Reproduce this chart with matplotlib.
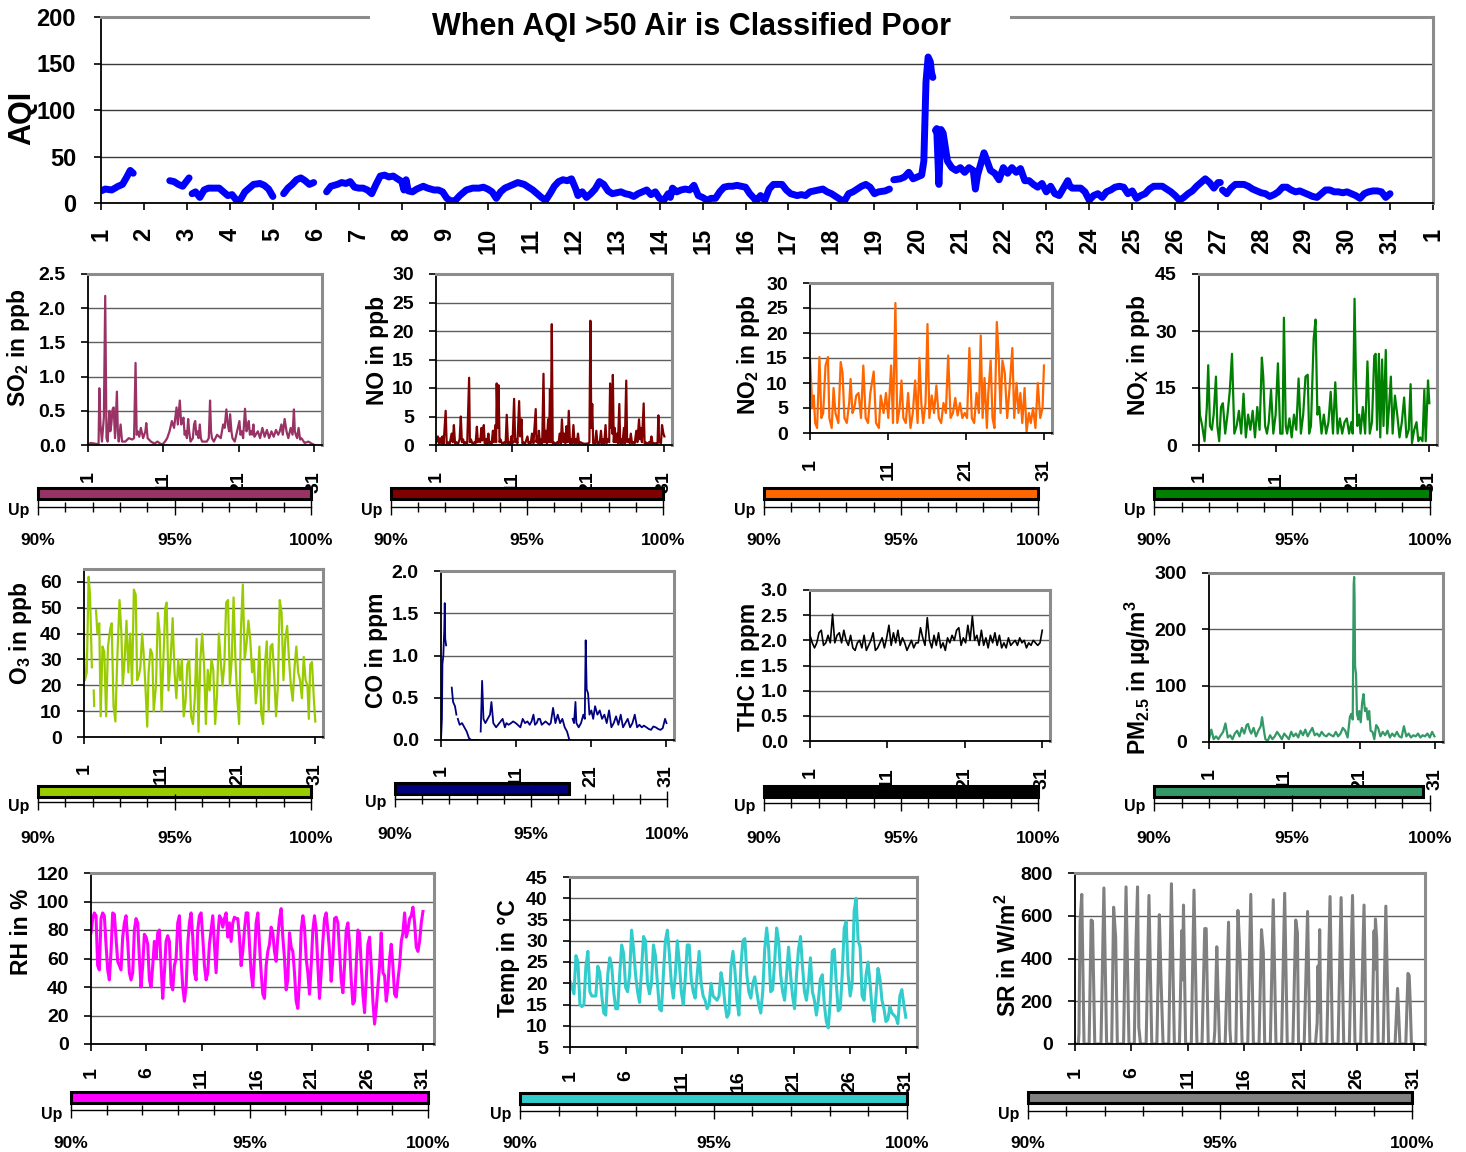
import numpy as np
import matplotlib
matplotlib.use("Agg")
import matplotlib.pyplot as plt
from matplotlib.patches import Rectangle
from matplotlib.ticker import MultipleLocator

plt.rcParams['font.family'] = ['Liberation Sans', 'DejaVu Sans']
plt.rcParams['font.weight'] = 'bold'
plt.rcParams['mathtext.fontset'] = 'custom'
plt.rcParams['mathtext.rm'] = 'Liberation Sans:bold'
plt.rcParams['mathtext.it'] = 'Liberation Sans:bold'
plt.rcParams['mathtext.bf'] = 'Liberation Sans:bold'
plt.rcParams['mathtext.default'] = 'rm'

nan = np.nan

# ---- data (day of month, value) ----
aqi_pts = [
    (1.0, 13), (1.1, 15), (1.25, 14), (1.4, 18), (1.5, 20), (1.6, 28), (1.68, 35), (1.75, 32), (1.8, nan),
    (2.6, 24), (2.7, 23), (2.8, 20), (2.9, 18), (3.0, 24), (3.05, 27), (3.08, nan),
    (3.12, 10), (3.2, 12), (3.3, 6), (3.4, 14), (3.5, 16), (3.6, 16), (3.75, 16), (3.85, 12), (3.95, 8),
    (4.05, 9), (4.15, 3), (4.25, 4), (4.35, 12), (4.45, 16), (4.55, 20), (4.7, 21), (4.8, 19), (4.9, 15),
    (5.0, 7), (5.1, nan),
    (5.25, 10), (5.35, 16), (5.45, 20), (5.55, 25), (5.65, 27), (5.75, 24), (5.85, 20), (5.95, 22), (6.1, nan),
    (6.25, 12), (6.35, 18), (6.5, 20), (6.6, 22), (6.7, 21), (6.8, 23), (6.9, 17), (7.0, 16), (7.1, 16),
    (7.2, 14), (7.3, 10), (7.4, 20), (7.5, 29), (7.6, 30), (7.7, 28), (7.8, 29), (7.9, 26), (8.0, 23),
    (8.05, 14), (8.1, 25), (8.15, 13), (8.25, 12), (8.35, 15), (8.5, 18), (8.6, 16), (8.75, 14), (8.85, 14),
    (8.95, 12), (9.05, 5), (9.15, 2), (9.25, 3), (9.35, 8), (9.5, 14), (9.65, 16), (9.8, 16), (9.9, 17),
    (10.0, 15), (10.1, 12), (10.2, 5), (10.3, 12), (10.4, 16), (10.5, 18), (10.6, 20), (10.7, 22),
    (10.85, 20), (10.95, 17), (11.05, 14), (11.15, 10), (11.25, 6), (11.35, 3), (11.45, 10), (11.55, 18),
    (11.65, 23), (11.75, 25), (11.85, 24), (11.95, 26), (12.05, 15), (12.1, 8), (12.2, 12), (12.3, 6),
    (12.4, 10), (12.5, 15), (12.6, 23), (12.7, 20), (12.8, 13), (12.9, 10), (13.0, 11), (13.1, 12),
    (13.2, 10), (13.3, 9), (13.4, 7), (13.5, 10), (13.6, 12), (13.7, 14), (13.8, 9), (13.9, 12), (14.0, 5),
    (14.1, 3), (14.2, 10), (14.25, 6), (14.3, 16), (14.4, 12), (14.5, 14), (14.6, 15), (14.7, 14),
    (14.8, 19), (14.9, 8), (15.0, 6), (15.1, 3), (15.2, 5), (15.3, 5), (15.4, 12), (15.5, 17), (15.6, 18),
    (15.7, 18), (15.8, 19), (15.9, 18), (16.0, 17), (16.1, 10), (16.2, 5), (16.25, 2), (16.35, 8),
    (16.45, 3), (16.55, 15), (16.65, 20), (16.75, 20), (16.85, 20), (16.95, 14), (17.05, 10), (17.2, 8),
    (17.3, 9), (17.4, 8), (17.5, 12), (17.6, 13), (17.7, 14), (17.8, 15), (17.9, 12), (18.0, 10),
    (18.1, 7), (18.2, 4), (18.3, 2), (18.4, 10), (18.5, 12), (18.6, 15), (18.7, 18), (18.8, 20),
    (18.9, 17), (19.0, 10), (19.1, 12), (19.25, 13), (19.35, 15), (19.4, nan),
    (19.45, 25), (19.6, 26), (19.7, 28), (19.8, 33), (19.9, 26), (20.0, 28), (20.1, 30), (20.15, 45),
    (20.2, 130), (20.25, 157), (20.3, 152), (20.33, 140), (20.36, 135), (20.39, nan),
    (20.42, 78), (20.45, 80), (20.5, 20), (20.55, 79), (20.6, 75), (20.65, 60), (20.7, 45), (20.8, 38),
    (20.9, 35), (21.0, 38), (21.1, 33), (21.2, 38), (21.3, 35), (21.35, 15), (21.4, 30), (21.5, 46),
    (21.55, 54), (21.6, 48), (21.7, 35), (21.8, 32), (21.9, 25), (22.0, 38), (22.1, 32), (22.2, 38),
    (22.3, 33), (22.4, 37), (22.5, 24), (22.6, 24), (22.7, 20), (22.8, 17), (22.9, 21), (23.0, 12),
    (23.1, 18), (23.2, 10), (23.3, 8), (23.4, 16), (23.5, 24), (23.55, 18), (23.6, 16), (23.7, 16),
    (23.8, 16), (23.9, 12), (24.0, 3), (24.1, 8), (24.2, 10), (24.3, 6), (24.4, 12), (24.5, 14),
    (24.6, 17), (24.7, 18), (24.8, 17), (24.9, 10), (25.0, 13), (25.1, 5), (25.2, 8), (25.3, 10),
    (25.4, 15), (25.5, 18), (25.6, 18), (25.7, 18), (25.8, 15), (25.9, 12), (26.0, 8), (26.1, 3),
    (26.2, 6), (26.3, 10), (26.4, 13), (26.5, 18), (26.6, 22), (26.7, 26), (26.8, 22), (26.9, 16),
    (27.0, 22), (27.05, 22), (27.08, nan),
    (27.1, 14), (27.2, 10), (27.3, 16), (27.4, 20), (27.5, 20), (27.6, 20), (27.7, 18), (27.8, 15),
    (27.9, 13), (28.0, 11), (28.1, 10), (28.2, 7), (28.3, 9), (28.4, 12), (28.5, 17), (28.6, 17),
    (28.7, 14), (28.8, 12), (28.9, 13), (29.0, 11), (29.1, 9), (29.2, 7), (29.3, 6), (29.4, 10),
    (29.5, 14), (29.6, 14), (29.7, 12), (29.8, 12), (29.9, 11), (30.0, 12), (30.1, 10), (30.2, 8),
    (30.3, 5), (30.4, 10), (30.5, 12), (30.6, 13), (30.7, 13), (30.8, 12), (30.9, 6), (31.0, 10),
]

so2_pts = [
    (1.0, 0.01), (1.4, 0.03), (1.9, 0.02), (2.4, 0.01), (2.5, 0.83), (2.65, 0.3), (2.85, 0.05), (3.1, 0.4),
    (3.28, 2.18), (3.45, 0.1), (3.6, 0.05), (3.84, 0.5), (3.95, 0.2), (4.09, 0.3), (4.25, 0.52), (4.4, 0.55),
    (4.58, 0.1), (4.83, 0.78), (4.95, 0.2), (5.07, 0.05), (5.32, 0.3), (5.51, 0.05), (5.94, 0.05), (6.4, 0.1),
    (6.86, 0.08), (7.1, 0.1), (7.3, 1.2), (7.45, 0.15), (7.6, 0.2), (7.79, 0.12), (8.0, 0.25), (8.3, 0.1),
    (8.6, 0.2), (8.72, 0.32), (8.9, 0.1), (9.33, 0.05), (9.8, 0.02), (10.2, 0.05), (10.57, 0.02),
    (10.88, 0.01), (11.2, 0.05), (11.49, 0.1), (11.8, 0.2), (12.11, 0.35), (12.4, 0.25), (12.73, 0.55),
    (12.9, 0.3), (13.16, 0.65), (13.35, 0.3), (13.5, 0.35), (13.65, 0.4), (13.8, 0.15), (13.96, 0.2),
    (14.1, 0.1), (14.27, 0.38), (14.4, 0.2), (14.58, 0.05), (14.89, 0.1), (15.05, 0.3), (15.2, 0.35),
    (15.35, 0.15), (15.51, 0.2), (15.65, 0.1), (15.81, 0.3), (15.95, 0.1), (16.12, 0.05), (16.74, 0.05),
    (17.0, 0.1), (17.17, 0.65), (17.3, 0.2), (17.42, 0.1), (17.67, 0.05), (18.1, 0.15), (18.59, 0.1),
    (18.9, 0.3), (19.1, 0.25), (19.33, 0.52), (19.52, 0.3), (19.7, 0.2), (19.83, 0.45), (20.0, 0.2),
    (20.14, 0.1), (20.44, 0.05), (20.75, 0.2), (21.06, 0.35), (21.2, 0.15), (21.37, 0.2), (21.55, 0.1),
    (21.8, 0.53), (21.99, 0.2), (22.15, 0.25), (22.3, 0.35), (22.45, 0.15), (22.6, 0.2), (22.75, 0.15),
    (22.91, 0.3), (23.05, 0.12), (23.22, 0.15), (23.5, 0.2), (23.8, 0.1), (24.1, 0.25), (24.4, 0.12),
    (24.7, 0.22), (25.0, 0.1), (25.3, 0.2), (25.6, 0.12), (25.9, 0.22), (26.2, 0.15), (26.4, 0.2),
    (26.62, 0.3), (26.8, 0.15), (27.05, 0.38), (27.3, 0.2), (27.54, 0.1), (27.85, 0.25), (28.1, 0.15),
    (28.28, 0.52), (28.4, 0.2), (28.53, 0.15), (28.7, 0.1), (28.9, 0.25), (29.1, 0.08), (29.27, 0.1),
    (29.7, 0.03), (30.2, 0.05), (30.63, 0.02), (31.0, 0.0),
]

no_pts = [
    (1.0, 0.3), (1.24, 1.5), (1.4, 0.3), (1.54, 1.2), (1.7, 0.3), (1.84, 1.5), (2.0, 0.2), (2.27, 6.0),
    (2.4, 0.3), (2.57, 0.5), (2.8, 0.2), (3.05, 2.0), (3.2, 0.5), (3.35, 3.5), (3.5, 0.3), (3.66, 0.5),
    (3.9, 0.2), (4.1, 1.0), (4.26, 5.0), (4.4, 0.5), (4.56, 1.0), (4.7, 0.2), (4.86, 0.5), (5.1, 0.3),
    (5.35, 11.8), (5.45, 0.5), (5.59, 1.0), (5.8, 0.2), (6.07, 0.5), (6.2, 0.3), (6.37, 3.2), (6.5, 0.5),
    (6.67, 1.0), (6.8, 0.5), (6.97, 3.0), (7.1, 0.8), (7.28, 3.5), (7.4, 0.3), (7.58, 1.0), (7.7, 0.2),
    (7.88, 2.0), (8.0, 0.3), (8.18, 0.5), (8.3, 0.2), (8.48, 2.5), (8.6, 0.5), (8.79, 3.5), (8.9, 0.5),
    (8.97, 10.8), (9.1, 3.0), (9.21, 10.5), (9.35, 0.5), (9.45, 1.0), (9.7, 0.2), (9.99, 0.5), (10.15, 0.3),
    (10.29, 5.3), (10.45, 0.3), (10.6, 0.5), (10.75, 0.2), (10.9, 1.5), (11.05, 0.3), (11.26, 8.1),
    (11.4, 0.5), (11.5, 1.0), (11.7, 0.3), (11.92, 7.7), (12.05, 1.5), (12.23, 4.5), (12.35, 0.3),
    (12.47, 0.5), (12.7, 0.2), (13.01, 1.5), (13.15, 0.3), (13.31, 0.5), (13.45, 0.3), (13.61, 2.0),
    (13.8, 0.3), (14.1, 6.3), (14.2, 0.5), (14.34, 1.5), (14.45, 0.3), (14.52, 2.5), (14.65, 0.3),
    (14.82, 1.0), (14.95, 0.3), (15.12, 12.5), (15.25, 0.5), (15.42, 2.5), (15.55, 0.3), (15.73, 4.5),
    (15.85, 0.5), (15.97, 9.8), (16.08, 0.5), (16.21, 21.2), (16.33, 0.3), (16.45, 0.5), (16.7, 0.2),
    (16.93, 0.5), (17.1, 0.3), (17.24, 2.0), (17.4, 0.3), (17.54, 4.5), (17.7, 0.5), (17.84, 2.0),
    (18.0, 0.3), (18.14, 3.3), (18.3, 0.5), (18.44, 6.0), (18.6, 0.3), (18.74, 1.0), (18.9, 0.3),
    (19.05, 3.5), (19.2, 0.3), (19.35, 1.0), (19.5, 0.3), (19.65, 2.0), (19.8, 0.2), (19.95, 0.5),
    (20.25, 0.3), (20.55, 0.2), (21.04, 0.3), (21.15, 0.5), (21.28, 21.8), (21.4, 3.0), (21.52, 7.2),
    (21.65, 0.3), (21.76, 0.5), (21.9, 0.3), (22.06, 2.5), (22.2, 0.3), (22.36, 0.5), (22.5, 0.3),
    (22.67, 2.5), (22.8, 0.3), (22.97, 1.0), (23.1, 0.3), (23.27, 3.5), (23.4, 0.3), (23.57, 1.0),
    (23.75, 0.5), (23.87, 10.8), (23.95, 3.0), (24.05, 10.0), (24.15, 2.0), (24.23, 12.3), (24.35, 0.5),
    (24.48, 3.0), (24.6, 0.5), (24.78, 2.0), (24.9, 0.3), (25.08, 7.2), (25.2, 0.3), (25.38, 1.0),
    (25.5, 0.3), (25.68, 3.0), (25.8, 0.3), (25.99, 11.3), (26.1, 0.5), (26.29, 1.0), (26.45, 0.3),
    (26.59, 2.0), (26.75, 0.3), (26.89, 0.5), (27.1, 0.3), (27.31, 2.5), (27.45, 0.5), (27.67, 4.5),
    (27.8, 1.0), (27.91, 3.0), (28.05, 0.5), (28.28, 7.3), (28.4, 0.3), (28.52, 0.5), (28.75, 0.2),
    (29.0, 0.5), (29.15, 0.3), (29.3, 1.5), (29.45, 0.2), (29.6, 0.3), (29.91, 0.3), (30.1, 0.2),
    (30.21, 5.2), (30.3, 0.5), (30.39, 0.5), (30.55, 0.3), (30.69, 3.5), (30.87, 2.0), (31.0, 1.5),
]

no2_pts = [
    (1.0, 14.8), (1.3, 5), (1.48, 7.5), (1.66, 2), (1.91, 1), (2.21, 15.2), (2.45, 3), (2.69, 4),
    (2.99, 13.5), (3.3, 15.2), (3.48, 3), (3.78, 1), (4.02, 9), (4.26, 4), (4.63, 2), (4.93, 14.2),
    (5.17, 12), (5.41, 3), (5.71, 2), (6.02, 6), (6.2, 10.8), (6.44, 4), (6.68, 5), (6.92, 7.5),
    (7.22, 8), (7.53, 3), (7.83, 13.5), (8.13, 3), (8.43, 2), (8.73, 8), (9.16, 12.3), (9.46, 2),
    (9.82, 1), (10.06, 7.5), (10.43, 4), (10.73, 8), (11.03, 3), (11.39, 13.5), (11.63, 2), (11.94, 26),
    (12.18, 2), (12.48, 5), (12.72, 10.5), (12.96, 3), (13.27, 2), (13.57, 8), (13.87, 1), (14.17, 4),
    (14.47, 10.5), (14.78, 2), (15.02, 15), (15.26, 6), (15.5, 2), (15.8, 6), (16.05, 21.8), (16.29, 3),
    (16.59, 7.5), (16.89, 4), (17.19, 9.5), (17.5, 3), (17.8, 2), (18.1, 6), (18.4, 4), (18.7, 15.5),
    (19.01, 3), (19.31, 4), (19.61, 7), (19.91, 3.5), (20.21, 6), (20.52, 3), (20.82, 4), (21.12, 3),
    (21.42, 17), (21.73, 3), (22.03, 2), (22.33, 8), (22.63, 4), (22.87, 19.5), (23.11, 3), (23.36, 11),
    (23.66, 1), (23.84, 8), (24.14, 14.5), (24.38, 3), (24.63, 1), (24.93, 22.2), (25.17, 15.5),
    (25.41, 4), (25.65, 14.5), (25.95, 12), (26.26, 3), (26.56, 9), (26.92, 17), (27.16, 3), (27.46, 10),
    (27.71, 4), (27.95, 8), (28.19, 2), (28.49, 9), (28.74, 0.2), (29.04, 4), (29.28, 2), (29.58, 5),
    (29.88, 1), (30.18, 10), (30.49, 3), (30.79, 5), (30.97, 13.5),
]

nox_pts = [
    (1.0, 15), (1.12, 8), (1.42, 5), (1.72, 1), (2.02, 10), (2.2, 21), (2.43, 5), (2.67, 4), (2.91, 8),
    (3.21, 18), (3.39, 5), (3.63, 1), (3.87, 10), (4.11, 11), (4.41, 3), (4.71, 8), (5.0, 14), (5.3, 24),
    (5.6, 3), (5.9, 5), (6.2, 9), (6.5, 3), (6.8, 13.5), (7.1, 2), (7.4, 8), (7.69, 4), (7.99, 9),
    (8.29, 2), (8.59, 10), (8.89, 4), (9.19, 23), (9.37, 18), (9.61, 5), (9.85, 3), (10.09, 6),
    (10.38, 14.5), (10.68, 3), (10.98, 8), (11.28, 21.5), (11.58, 3), (11.88, 3), (12.06, 33.5),
    (12.3, 5), (12.48, 3), (12.78, 7), (13.07, 2), (13.37, 8), (13.67, 4), (13.97, 17.5), (14.27, 3),
    (14.57, 8), (14.87, 18), (15.16, 18.5), (15.34, 3), (15.58, 5), (15.94, 28), (16.18, 33), (16.42, 8),
    (16.66, 10), (16.96, 3), (17.26, 8), (17.56, 3), (17.86, 6), (18.15, 14), (18.45, 3), (18.75, 16.5),
    (19.05, 3), (19.35, 7), (19.65, 3), (19.95, 6), (20.25, 7), (20.55, 3), (20.84, 6), (21.02, 3),
    (21.26, 38.5), (21.44, 18), (21.62, 5), (21.86, 8), (22.04, 3), (22.34, 10), (22.64, 3), (22.94, 22),
    (23.24, 3), (23.53, 6), (23.83, 23.5), (24.01, 24), (24.19, 4), (24.43, 24), (24.61, 2),
    (24.85, 22.5), (25.03, 5), (25.33, 25), (25.51, 3), (25.75, 10), (25.99, 18), (26.22, 3), (26.52, 13),
    (26.82, 8), (27.12, 2), (27.42, 6), (27.72, 12.5), (28.02, 2), (28.32, 4), (28.56, 16), (28.74, 0.5),
    (29.03, 4), (29.33, 6), (29.57, 1), (29.81, 2), (30.11, 1), (30.35, 14.5), (30.53, 1), (30.83, 17),
    (31.0, 11),
]

o3_pts = [
    (1.0, 33), (1.12, 22), (1.36, 25), (1.6, 62), (1.78, 55), (2.02, 27), (2.1, nan), (2.26, 18),
    (2.32, 12), (2.45, nan), (2.56, 49), (2.74, 40), (2.98, 44), (3.16, 8), (3.4, 35), (3.63, 33),
    (3.87, 8), (4.11, 35), (4.41, 42), (4.59, 44), (4.83, 12), (5.07, 6), (5.31, 30), (5.61, 53),
    (5.85, 40), (6.03, 20), (6.27, 30), (6.51, 45), (6.75, 25), (6.99, 40), (7.23, 20), (7.47, 57),
    (7.71, 55), (7.89, 22), (8.13, 24), (8.31, 27), (8.54, 40), (8.72, 33), (8.96, 20), (9.2, 4),
    (9.38, 25), (9.62, 34), (9.86, 32), (10.04, 10), (10.34, 20), (10.58, 48), (10.82, 40), (11.06, 10),
    (11.3, 30), (11.54, 50), (11.72, 52), (11.96, 18), (12.2, 28), (12.5, 46), (12.74, 25), (12.98, 15),
    (13.22, 30), (13.46, 22), (13.69, 30), (13.93, 8), (14.17, 14), (14.41, 28), (14.65, 30), (14.89, 8),
    (15.13, 5), (15.37, 15), (15.61, 38), (15.85, 2), (16.09, 30), (16.33, 40), (16.57, 28), (16.81, 5),
    (17.05, 26), (17.29, 18), (17.53, 30), (17.77, 26), (18.01, 5), (18.25, 16), (18.49, 40), (18.72, 30),
    (18.96, 20), (19.2, 28), (19.44, 52), (19.68, 53), (19.92, 20), (20.16, 30), (20.4, 54), (20.64, 30),
    (20.88, 15), (21.12, 5), (21.36, 42), (21.6, 59), (21.84, 30), (22.08, 36), (22.32, 45), (22.56, 38),
    (22.8, 25), (23.04, 30), (23.28, 13), (23.51, 20), (23.75, 35), (23.99, 9), (24.23, 5), (24.47, 28),
    (24.71, 37), (24.95, 10), (25.19, 35), (25.43, 36), (25.67, 24), (25.91, 8), (26.15, 20), (26.39, 53),
    (26.63, 48), (26.87, 22), (27.11, 38), (27.35, 43), (27.59, 30), (27.83, 20), (28.07, 14), (28.31, 27),
    (28.54, 35), (28.78, 25), (29.02, 22), (29.26, 15), (29.5, 31), (29.74, 22), (29.98, 20), (30.16, 7),
    (30.34, 28), (30.57, 29), (30.81, 15), (31.0, 6),
]

co_pts = [
    (1.0, 0.0), (1.12, 0.25), (1.19, 0.9), (1.31, 1.0), (1.43, 1.3), (1.5, 1.62), (1.56, 1.2), (1.68, 1.12),
    (2.0, nan), (2.43, 0.62), (2.61, 0.45), (2.86, 0.4), (3.05, 0.3), (3.15, nan), (3.24, 0.25),
    (3.48, 0.18), (3.8, 0.2), (4.11, 0.15), (4.42, 0.1), (4.73, 0.02), (5.04, 0.0), (5.35, 0.0),
    (5.97, 0.0), (6.1, nan), (6.28, 0.1), (6.47, 0.7), (6.65, 0.25), (6.9, 0.2), (7.21, 0.25), (7.52, 0.3),
    (7.71, 0.45), (7.96, 0.2), (8.33, 0.15), (8.76, 0.2), (9.2, 0.25), (9.5, 0.15), (9.7, 0.2), (10.0, 0.18),
    (10.32, 0.2), (10.6, 0.22), (10.94, 0.2), (11.2, 0.18), (11.56, 0.15), (11.87, 0.25), (12.18, 0.2),
    (12.5, 0.22), (12.8, 0.18), (13.05, 0.22), (13.3, 0.3), (13.5, 0.18), (13.73, 0.2), (13.95, 0.25),
    (14.17, 0.25), (14.4, 0.18), (14.66, 0.2), (14.9, 0.22), (15.16, 0.2), (15.4, 0.18), (15.6, 0.2),
    (15.91, 0.38), (16.22, 0.2), (16.53, 0.3), (16.84, 0.2), (17.15, 0.25), (17.46, 0.15), (17.77, 0.1),
    (18.08, 0.0), (18.27, 0.0), (18.4, nan), (18.52, 0.25), (18.7, 0.2), (18.89, 0.45), (19.01, 0.2),
    (19.32, 0.15), (19.63, 0.2), (19.94, 0.3), (20.13, 0.25), (20.25, 1.18), (20.38, 0.6), (20.57, 0.55),
    (20.75, 0.3), (21.0, 0.35), (21.25, 0.25), (21.5, 0.4), (21.81, 0.3), (22.12, 0.35), (22.43, 0.25),
    (22.74, 0.3), (23.05, 0.2), (23.36, 0.35), (23.67, 0.15), (23.98, 0.2), (24.29, 0.28), (24.6, 0.18),
    (24.91, 0.3), (25.22, 0.15), (25.53, 0.2), (25.84, 0.25), (26.16, 0.15), (26.47, 0.2), (26.78, 0.3),
    (27.09, 0.15), (27.4, 0.18), (27.71, 0.15), (28.0, 0.17), (28.33, 0.15), (28.65, 0.13), (28.95, 0.12),
    (29.25, 0.16), (29.57, 0.15), (29.9, 0.13), (30.19, 0.12), (30.5, 0.14), (30.81, 0.25), (31.0, 0.2),
]

# evenly spaced readings from day 1 to day 31
thc_val = [
    2.1, 1.95, 1.85, 1.95, 2.15, 2.2, 1.9, 1.95, 2.1, 1.95, 2.52, 1.95, 2.1, 2.15, 1.95, 2.2, 2.0, 1.9,
    2.1, 1.85, 1.8, 1.95, 2.0, 1.85, 2.1, 1.8, 1.9, 2.0, 2.15, 1.8, 1.85, 1.95, 2.05, 1.85, 2.05, 2.3,
    1.9, 2.15, 1.95, 2.2, 1.9, 2.05, 1.95, 1.8, 1.9, 2.0, 1.85, 1.95, 1.95, 2.25, 2.05, 1.9, 2.45, 2.0,
    1.85, 2.1, 1.9, 2.15, 1.85, 1.95, 1.8, 2.05, 1.95, 2.1, 2.0, 2.2, 2.25, 1.9, 2.05, 1.95, 2.3, 2.0,
    2.48, 2.0, 2.1, 1.9, 2.2, 1.9, 2.05, 1.85, 2.1, 1.95, 2.15, 1.9, 2.1, 1.85, 1.95, 1.85, 2.05, 1.9,
    1.95, 2.0, 1.9, 2.05, 1.95, 2.0, 1.85, 1.95, 1.9, 2.0, 1.95, 1.9, 1.95, 2.2,
]

pm25_pts = [
    (1.0, 5), (1.31, 22), (1.62, 5), (1.93, 10), (2.24, 5), (2.56, 12), (2.87, 18), (3.18, 33), (3.49, 8),
    (3.8, 12), (4.11, 5), (4.42, 15), (4.73, 20), (5.04, 10), (5.36, 25), (5.67, 15), (5.98, 30),
    (6.17, 32), (6.41, 20), (6.6, 15), (6.91, 25), (7.22, 10), (7.53, 20), (7.85, 28), (8.03, 44),
    (8.28, 20), (8.47, 5), (8.78, 2), (9.09, 12), (9.4, 5), (9.71, 10), (10.02, 18), (10.33, 12),
    (10.65, 5), (10.96, 15), (11.27, 10), (11.58, 5), (11.89, 18), (12.2, 10), (12.51, 15), (12.82, 8),
    (13.13, 20), (13.45, 12), (13.76, 22), (14.07, 10), (14.38, 18), (14.69, 25), (15.0, 12), (15.31, 15),
    (15.62, 10), (15.93, 18), (16.25, 12), (16.56, 10), (16.87, 15), (17.18, 12), (17.49, 10), (17.8, 18),
    (18.11, 10), (18.42, 15), (18.73, 25), (19.05, 20), (19.36, 8), (19.67, 45), (19.85, 50), (20.04, 40),
    (20.17, 280), (20.23, 293), (20.29, 250), (20.35, 135), (20.48, 120), (20.6, 50), (20.79, 40),
    (20.91, 55), (21.1, 35), (21.29, 70), (21.47, 85), (21.66, 55), (21.85, 60), (22.03, 40), (22.22, 55),
    (22.41, 20), (22.66, 18), (22.9, 5), (23.15, 30), (23.4, 25), (23.71, 10), (24.02, 18), (24.34, 12),
    (24.65, 20), (24.96, 8), (25.27, 15), (25.58, 10), (25.89, 18), (26.2, 10), (26.51, 8), (26.82, 28),
    (27.14, 10), (27.45, 15), (27.76, 8), (28.07, 12), (28.38, 10), (28.69, 15), (29.0, 8), (29.31, 12),
    (29.62, 10), (29.93, 15), (30.25, 8), (30.56, 18), (30.87, 10),
]

rh_val = [
    78, 88, 92, 90, 55, 52, 88, 92, 90, 70, 52, 45, 65, 92, 91, 75, 58, 55, 52, 75, 85, 90, 72, 50, 45,
    50, 80, 88, 85, 60, 40, 55, 77, 75, 70, 45, 40, 55, 72, 60, 78, 80, 55, 32, 50, 72, 76, 72, 42, 38,
    55, 60, 85, 90, 60, 40, 30, 40, 70, 85, 92, 75, 50, 45, 80, 90, 92, 75, 55, 45, 50, 70, 80, 90, 70,
    50, 75, 90, 88, 82, 88, 92, 75, 85, 72, 85, 89, 88, 88, 75, 55, 65, 80, 92, 92, 70, 50, 40, 60, 85,
    92, 70, 50, 35, 32, 55, 65, 70, 82, 78, 65, 58, 75, 88, 95, 75, 60, 38, 45, 78, 68, 65, 50, 30, 25,
    45, 80, 90, 82, 60, 50, 35, 55, 80, 90, 80, 55, 32, 50, 72, 88, 92, 80, 65, 44, 60, 88, 89, 85, 65,
    45, 36, 55, 80, 85, 70, 45, 28, 30, 55, 80, 78, 55, 35, 22, 45, 70, 75, 55, 30, 14, 25, 40, 55, 78,
    50, 48, 30, 40, 60, 70, 55, 35, 33, 45, 55, 72, 78, 92, 75, 80, 88, 90, 96, 85, 68, 65, 72, 85, 93,
]

temp_val = [
    20.5, 19, 17.5, 26.5, 25, 15, 14.5, 15, 24, 27.5, 18, 17, 17, 17, 24, 22.5, 17, 13, 12.5, 22, 26, 24,
    18, 14, 14, 22, 29, 27, 19, 18, 22, 32.5, 28, 22, 18, 15.5, 23, 31, 30, 20, 17.5, 20, 29, 26.5, 20,
    14, 13.5, 22, 30, 32.5, 27, 20, 16.5, 22, 30, 25, 18, 15, 21, 29, 29, 21, 18, 16.5, 22, 27.5, 20, 17,
    16, 14, 15, 20, 17, 16.5, 16, 17, 22.5, 20, 15, 12, 13, 24, 27.5, 23, 16, 12.5, 24, 30, 30.5, 22, 18,
    16.5, 20, 21.5, 18, 15, 13, 18, 28, 33, 28, 18, 18.5, 25, 33, 30, 22, 18, 16, 22, 28.5, 22, 17, 14,
    22, 28, 31, 24, 18, 16, 20, 26, 18, 16, 12.5, 16, 21, 22, 15, 11, 9.5, 16, 27.5, 28, 20, 13.5, 14,
    22, 33, 34.5, 22, 17, 20, 37, 40, 30, 28.5, 17, 16, 22, 25, 20, 14, 11, 17, 23.5, 21, 16, 14, 11,
    11.5, 14.5, 13, 12.5, 12, 10.5, 17, 18.5, 15, 12,
]

sr_pts = [
    (1.0, 0), (1.3, 0), (1.35, 50), (1.45, 570), (1.6, 700), (1.8, 0),
    (2.25, 0), (2.43, 580), (2.55, 575), (2.75, 0), (3.3, 0), (3.56, 730), (3.8, 0),
    (4.25, 0), (4.42, 640), (4.6, 500), (4.75, 0), (5.3, 0), (5.52, 735), (5.78, 0),
    (6.25, 0), (6.4, 470), (6.54, 735), (6.6, 400), (6.65, 80), (6.8, 0), (7.3, 0), (7.55, 695), (7.8, 0),
    (8.25, 0), (8.47, 605), (8.62, 300), (8.8, 0), (9.3, 0), (9.54, 750), (9.8, 0),
    (10.25, 0), (10.46, 530), (10.52, 300), (10.61, 650), (10.8, 0), (11.3, 0), (11.54, 720), (11.8, 0),
    (12.25, 0), (12.49, 540), (12.62, 540), (12.8, 0),
    (13.3, 0), (13.38, 60), (13.56, 455), (13.66, 250), (13.8, 0),
    (14.3, 0), (14.6, 570), (14.72, 70), (14.8, 0), (15.25, 0), (15.43, 625), (15.62, 410), (15.8, 0),
    (16.3, 0), (16.57, 700), (16.8, 0), (17.3, 0), (17.52, 535), (17.68, 430), (17.8, 0),
    (18.3, 0), (18.56, 675), (18.8, 0), (19.3, 0), (19.57, 705), (19.8, 0),
    (20.3, 0), (20.55, 580), (20.7, 520), (20.8, 0), (21.3, 0), (21.6, 620), (21.8, 0),
    (22.3, 0), (22.45, 100), (22.52, 365), (22.58, 150), (22.67, 535), (22.8, 0),
    (23.3, 0), (23.59, 690), (23.8, 0), (24.3, 0), (24.57, 685), (24.8, 0),
    (25.3, 0), (25.58, 695), (25.8, 0), (26.3, 0), (26.6, 650), (26.8, 0),
    (27.3, 0), (27.49, 530), (27.55, 350), (27.61, 585), (27.72, 490), (27.85, 0),
    (28.3, 0), (28.53, 645), (28.78, 0), (29.35, 0), (29.57, 260), (29.78, 0),
    (30.3, 0), (30.49, 330), (30.6, 320), (30.68, 210), (30.8, 0), (31.0, 0),
]

# data-capture ("Up") percentages
uptime = {'so2': 100, 'no': 100, 'no2': 100, 'nox': 100, 'o3': 100, 'co': 96.4,
          'thc': 100, 'pm25': 99.75, 'rh': 100, 'temp': 100, 'sr': 100}

top_day_labels = list(range(1, 32)) + [1]


def unzip(pts):
    d, v = zip(*pts)
    return np.array(d), np.array(v, dtype=float)


def even_days(vals):
    return np.linspace(1, 31, len(vals))


W, H = 1466, 1152
fig = plt.figure(figsize=(W / 100, H / 100), dpi=100)


def px_box(l, t, r, b):
    return [l / W, 1 - b / H, (r - l) / W, (b - t) / H]


def frame(ax, grid_color):
    ax.grid(axis='y', color=grid_color, lw=1.0)
    ax.grid(axis='x', visible=False)
    ax.set_axisbelow(True)
    for s in ('top', 'right'):
        ax.spines[s].set_color('#8c8c8c')
        ax.spines[s].set_linewidth(2.2)
    for s in ('left', 'bottom'):
        ax.spines[s].set_color('black')
        ax.spines[s].set_linewidth(1.3)


# ---- top AQI panel ----
ax = fig.add_axes(px_box(101, 17, 1433, 203))
d, v = unzip(aqi_pts)
ax.plot(d, v, color='#0000ff', lw=5, solid_capstyle='round', solid_joinstyle='round')
ax.set_xlim(1, 32)
ax.set_ylim(0, 200)
ax.set_yticks([0, 50, 100, 150, 200])
ax.set_xticks(range(1, 33))
ax.set_xticklabels([str(t) for t in top_day_labels], rotation=90, va='top')
ax.tick_params(axis='y', direction='out', length=5, width=1.2, pad=13, labelsize=17)
ax.tick_params(axis='x', direction='out', length=5, width=1.2, pad=13, labelsize=17)
frame(ax, '#3a3a3a')
fig.text(22 / W, 1 - 118 / H, 'AQI', rotation=90, ha='center', va='center', fontsize=22)
fig.patches.append(Rectangle((370 / W, 1 - 44 / H), 640 / W, 40 / H, transform=fig.transFigure,
                             facecolor='white', edgecolor='none', zorder=2))
fig.text(691 / W, 1 - 27 / H, 'When AQI >50 Air is Classified Poor', ha='center', va='center',
         fontsize=22, zorder=3)


def panel(rect, days, vals, color, lw, ylim, yticks, yfmt, ylabel, lab_xy, xticks, xpad=14):
    ax = fig.add_axes(px_box(*rect))
    ax.plot(days, vals, color=color, lw=lw)
    ax.set_xlim(1, 32)
    ax.set_ylim(*ylim)
    ax.set_yticks(yticks)
    ax.set_yticklabels([yfmt.format(t) for t in yticks])
    ax.set_xticks(xticks)
    ax.set_xticklabels([str(t) for t in xticks], rotation=90, va='top')
    ax.tick_params(axis='y', direction='out', length=5, width=1.2, pad=11, labelsize=14)
    ax.tick_params(axis='x', direction='out', length=5, width=1.2, pad=xpad, labelsize=14)
    frame(ax, '#5e5e5e')
    fig.text(lab_xy[0] / W, 1 - lab_xy[1] / H, ylabel, rotation=90, ha='center', va='center',
             fontsize=16.5)
    return ax


def up_bar(x0, x1, bar_top, line_y, label_y, pct, color):
    hpx = line_y - bar_top
    ax = fig.add_axes(px_box(x0, bar_top, x1, line_y))
    ax.patch.set_visible(False)
    ax.set_xlim(90, 100)
    ax.set_ylim(0, hpx)
    ax.barh(hpx - 5.5, pct - 90, left=90, height=11, color=color, edgecolor='black', lw=2.2,
            clip_on=False)
    for s in ('top', 'right', 'left'):
        ax.spines[s].set_visible(False)
    ax.spines['bottom'].set_linewidth(1.0)
    ax.set_yticks([])
    ax.set_xticks([90, 95, 100])
    ax.set_xticklabels(['90%', '95%', '100%'])
    ax.xaxis.set_minor_locator(MultipleLocator(1))
    pad_px = label_y - line_y - 14
    ax.tick_params(axis='x', which='major', direction='inout', length=11, width=1.0,
                   pad=pad_px * 0.72, labelsize=12.5)
    ax.tick_params(axis='x', which='minor', direction='inout', length=7, width=1.0)
    fig.text((x0 - 9) / W, 1 - (line_y + 4) / H, 'Up', ha='right', va='center', fontsize=11.5)


x_month = [1, 11, 21, 31]
x_week = [1, 6, 11, 16, 21, 26, 31]

# ---- row 1 ----
d, v = unzip(so2_pts)
panel((88, 274, 322, 445), d, v, '#993366', 1.6, (0, 2.5), [0, 0.5, 1.0, 1.5, 2.0, 2.5], '{:.1f}',
      'SO$_2$ in ppb', (19, 348), x_month)
d, v = unzip(no_pts)
panel((436, 274, 672, 445), d, v, '#800000', 1.6, (0, 30), [0, 5, 10, 15, 20, 25, 30], '{:.0f}',
      'NO in ppb', (377, 350), x_month)
d, v = unzip(no2_pts)
panel((810, 283, 1052, 433), d, v, '#ff6600', 1.6, (0, 30), [0, 5, 10, 15, 20, 25, 30], '{:.0f}',
      'NO$_2$ in ppb', (748, 355), x_month)
d, v = unzip(nox_pts)
panel((1199, 274, 1437, 445), d, v, '#008000', 1.6, (0, 45), [0, 15, 30, 45], '{:.0f}',
      'NO$_X$ in ppb', (1138, 355), x_month)

up_bar(38, 311, 488, 507, 539, uptime['so2'], '#993366')
up_bar(391, 663, 488, 507, 539, uptime['no'], '#800000')
up_bar(764, 1038, 488, 507, 539, uptime['no2'], '#ff6600')
up_bar(1154, 1430, 488, 507, 539, uptime['nox'], '#008000')

# ---- row 2 ----
d, v = unzip(o3_pts)
panel((84, 569, 323, 737), d, v, '#99cc00', 1.6, (0, 65), [0, 10, 20, 30, 40, 50, 60], '{:.0f}',
      'O$_3$ in ppb', (21, 633), x_month)
d, v = unzip(co_pts)
panel((441, 571, 674, 740), d, v, '#000080', 1.3, (0, 2.0), [0, 0.5, 1.0, 1.5, 2.0], '{:.1f}',
      'CO in ppm', (376, 650), x_month, xpad=13)
panel((810, 590, 1050, 741), even_days(thc_val), thc_val, '#000000', 1.2, (0, 3.0),
      [0, 0.5, 1.0, 1.5, 2.0, 2.5, 3.0], '{:.1f}', 'THC in ppm', (748, 667), x_month)
d, v = unzip(pm25_pts)
panel((1209, 573, 1443, 742), d, v, '#339966', 1.6, (0, 300), [0, 100, 200, 300], '{:.0f}',
      'PM$_{2.5}$ in µg/m$^3$', (1138, 678), x_month)

up_bar(38, 311, 786, 802, 837, uptime['o3'], '#99cc00')
up_bar(395, 667, 783, 799, 833, uptime['co'], '#000080')
up_bar(764, 1038, 786, 803, 837, uptime['thc'], '#000000')
up_bar(1154, 1430, 786, 803, 837, uptime['pm25'], '#339966')

# ---- row 3 ----
panel((91, 873, 434, 1044), even_days(rh_val), rh_val, '#ff00ff', 2.2, (0, 120),
      [0, 20, 40, 60, 80, 100, 120], '{:.0f}', 'RH in %', (22, 932), x_week, xpad=12)
panel((570, 877, 917, 1047), even_days(temp_val), temp_val, '#33cccc', 2.2, (5, 45),
      [5, 10, 15, 20, 25, 30, 35, 40, 45], '{:.0f}', 'Temp in °C', (508, 958), x_week, xpad=12)
d, v = unzip(sr_pts)
panel((1075, 873, 1425, 1044), d, v, '#808080', 2.2, (0, 800), [0, 200, 400, 600, 800], '{:.0f}',
      'SR in W/m$^2$', (1008, 955), x_week, xpad=12)

up_bar(71, 428, 1092, 1110, 1142, uptime['rh'], '#ff00ff')
up_bar(520, 907, 1093, 1111, 1142, uptime['temp'], '#33cccc')
up_bar(1028, 1412, 1092, 1111, 1142, uptime['sr'], '#808080')

fig.savefig('out.png', dpi=100)
